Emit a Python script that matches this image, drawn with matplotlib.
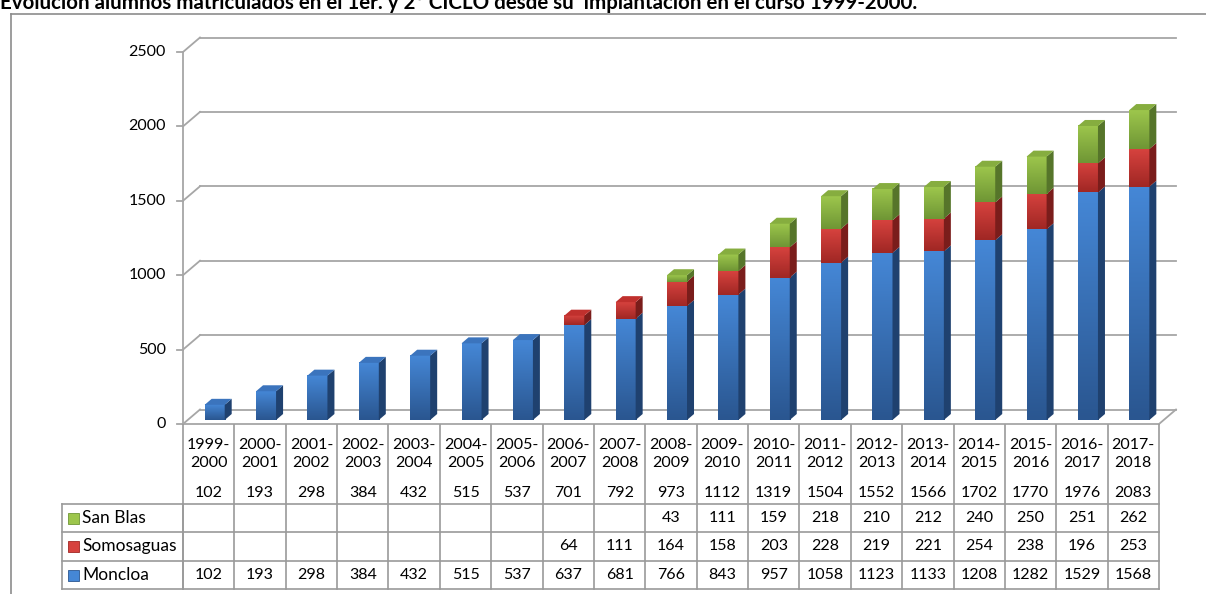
import matplotlib.pyplot as plt
import matplotlib.transforms as mtransforms
from matplotlib.colors import LinearSegmentedColormap
from matplotlib.patches import Polygon, Rectangle
from matplotlib.lines import Line2D
import numpy as np

plt.rcParams['font.family'] = ['Lato', 'DejaVu Sans']

# data
cursos = ['1999-\n2000', '2000-\n2001', '2001-\n2002', '2002-\n2003', '2003-\n2004',
          '2004-\n2005', '2005-\n2006', '2006-\n2007', '2007-\n2008', '2008-\n2009',
          '2009-\n2010', '2010-\n2011', '2011-\n2012', '2012-\n2013', '2013-\n2014',
          '2014-\n2015', '2015-\n2016', '2016-\n2017', '2017-\n2018']
moncloa = [102, 193, 298, 384, 432, 515, 537, 637, 681, 766, 843, 957, 1058, 1123,
           1133, 1208, 1282, 1529, 1568]
somosaguas = [None] * 7 + [64, 111, 164, 158, 203, 228, 219, 221, 254, 238, 196, 253]
san_blas = [None] * 9 + [43, 111, 159, 218, 210, 212, 240, 250, 251, 262]
yticks = [0, 500, 1000, 1500, 2000, 2500]

series = [('Moncloa', moncloa, ('#2a5690', '#4587d6'), '#1f416f', '#3b74bd'),
          ('Somosaguas', somosaguas, ('#a02724', '#d6423e'), '#7a1d1b', '#c0302d'),
          ('San Blas', san_blas, ('#6f9635', '#9dc64c'), '#56752a', '#86ad3f')]

W, H = 1206, 594
fs = 11.5
fig = plt.figure(figsize=(W / 100, H / 100), dpi=100)
ax = fig.add_axes([183 / W, (H - 424) / H, 976 / W, 372 / H])
ax.set_xlim(0, len(cursos))
ax.set_ylim(0, 2500)
ax.axis('off')

grid_c = '#a6a6a6'
line_c = '#9a9a9a'
ident = mtransforms.IdentityTransform()


def disp(x, y):
    return ax.transData.transform((x, y))


def fy(ytop):
    return (H - ytop) / H


# outer frame and title
fig.add_artist(Line2D([11 / W, 11 / W], [0, fy(14)], color='#8c8c8c', lw=1.2))
fig.add_artist(Line2D([11 / W, 1], [fy(14), fy(14)], color='#8c8c8c', lw=1.2))
fig.text(0, fy(9), 'Evolución alumnos matriculados en el 1er. y 2º CICLO desde su  '
         'implantación en el curso 1999-2000.', fontsize=14.8, fontweight='bold',
         va='baseline', ha='left')

# back wall, side wall and floor
back = (17, 14.5)
n = len(cursos)
for v in yticks:
    p0 = disp(0, v)
    p1 = disp(n, v)
    ax.add_line(Line2D([p0[0] + back[0], p1[0] + back[0]], [p0[1] + back[1], p1[1] + back[1]],
                       transform=ident, color=grid_c, lw=1.3, clip_on=False))
    ax.add_line(Line2D([p0[0], p0[0] + back[0]], [p0[1], p0[1] + back[1]],
                       transform=ident, color=grid_c, lw=1.3, clip_on=False))
    ax.add_line(Line2D([p0[0] - 6, p0[0]], [p0[1], p0[1]],
                       transform=ident, color=grid_c, lw=1.3, clip_on=False))
    ax.text(-0.33, v, str(v), ha='right', va='center', fontsize=fs)
p0 = disp(0, 0)
p1 = disp(n, 0)
ptop = disp(0, 2500)
ax.add_line(Line2D([p0[0], ptop[0]], [p0[1], ptop[1]], transform=ident, color=grid_c,
                   lw=1.3, clip_on=False))
ax.add_line(Line2D([p0[0], p1[0]], [p0[1], p1[1]], transform=ident, color=grid_c,
                   lw=1.3, clip_on=False))
ax.add_line(Line2D([p1[0], p1[0] + back[0]], [p1[1], p1[1] + back[1]], transform=ident,
                   color=grid_c, lw=1.3, clip_on=False))

# 3D-looking stacked bars
off = (6, 4)
depth = (7, 6)
bw = 0.39
front_tr = ax.transData + mtransforms.ScaledTranslation(off[0] / 100, off[1] / 100,
                                                         fig.dpi_scale_trans)
bottoms = np.zeros(n)
tops = np.array([sum(v or 0 for v in col) for col in zip(moncloa, somosaguas, san_blas)])
for name, vals, (dark, light), side_c, top_c in series:
    cmap = LinearSegmentedColormap.from_list(name, [dark, light])
    grad = np.linspace(0, 1, 64).reshape(-1, 1)
    for i, v in enumerate(vals):
        if not v:
            continue
        b = bottoms[i]
        t = b + v
        x0 = i + 0.5 - bw / 2
        x1 = i + 0.5 + bw / 2
        ax.imshow(grad, extent=[x0, x1, b, t], aspect='auto', cmap=cmap,
                  origin='lower', transform=front_tr, zorder=3, interpolation='bilinear')
        pb = disp(x1, b) + off
        pt = disp(x1, t) + off
        side = [pb, pt, pt + depth, pb + depth]
        ax.add_patch(Polygon(side, closed=True, transform=ident, facecolor=side_c,
                             edgecolor='none', zorder=3, clip_on=False))
        if t == tops[i]:
            pl = disp(x0, t) + off
            topf = [pl, pt, pt + depth, pl + depth]
            ax.add_patch(Polygon(topf, closed=True, transform=ident, facecolor=top_c,
                                 edgecolor='none', zorder=4, clip_on=False))
        bottoms[i] = t
ax.set_xlim(0, n)
ax.set_ylim(0, 2500)

# data table below the chart
tx = mtransforms.blended_transform_factory(ax.transData, fig.transFigure)
for k in range(n + 1):
    fig.add_artist(Line2D([k, k], [fy(425), fy(589)], transform=tx, color=line_c, lw=1.2))
for i, c in enumerate(cursos):
    fig.text(i + 0.5, fy(454), c, transform=tx, ha='center', va='center', fontsize=fs,
             linespacing=1.4)
    fig.text(i + 0.5, fy(493), str(tops[i]), transform=tx, ha='center', va='center',
             fontsize=fs)
rows_y = [504, 532, 561, 589]
leg_x0 = 62 / W
for yy in rows_y:
    fig.add_artist(Line2D([leg_x0, 1159 / W], [fy(yy), fy(yy)], color=line_c, lw=1.2))
fig.add_artist(Line2D([leg_x0, leg_x0], [fy(504), fy(589)], color=line_c, lw=1.2))
fig.add_artist(Line2D([183 / W, 183 / W], [fy(504), fy(589)], color=line_c, lw=1.2))
for r, (name, vals, (dark, light), side_c, top_c) in enumerate(reversed(series)):
    yc = (rows_y[r] + rows_y[r + 1]) / 2
    fig.add_artist(Rectangle((68 / W, fy(yc + 5.5)), 11 / W, 11 / H, facecolor=light,
                             edgecolor=dark, lw=0.6))
    fig.text(82 / W, fy(yc), name, ha='left', va='center', fontsize=12.5)
    for i, v in enumerate(vals):
        if v:
            fig.text(i + 0.5, fy(yc), str(v), transform=tx, ha='center', va='center',
                     fontsize=fs)

fig.savefig('out.png', dpi=100)
